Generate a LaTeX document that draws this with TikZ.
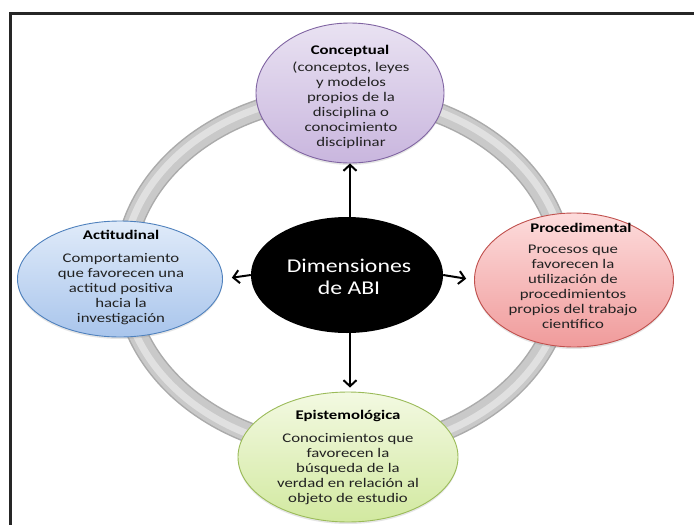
\documentclass[tikz,border=0pt]{standalone}
\usepackage{fontspec}
\newfontfamily\bodyfont[FakeStretch=1.27]{Carlito}
\newfontfamily\midfont[FakeStretch=1.22]{Carlito}
\usetikzlibrary{shapes.geometric,arrows.meta,shadows}
\definecolor{purpTop}{HTML}{E9E2F2}
\definecolor{purpBot}{HTML}{C9B6DE}
\definecolor{purpLine}{HTML}{8064A2}
\definecolor{blueTop}{HTML}{E0EBF9}
\definecolor{blueBot}{HTML}{A9C5EC}
\definecolor{blueLine}{HTML}{4F81BD}
\definecolor{redTop}{HTML}{FDDCDC}
\definecolor{redBot}{HTML}{F09B9B}
\definecolor{redLine}{HTML}{C0504D}
\definecolor{grnTop}{HTML}{F3F9E2}
\definecolor{grnBot}{HTML}{D2E9A0}
\definecolor{grnLine}{HTML}{9BBB59}
\definecolor{ringDark}{HTML}{ABABAB}
\definecolor{ringMid}{HTML}{C9C9C9}
\definecolor{ringLight}{HTML}{E0E0E0}
\definecolor{textGray}{HTML}{222222}
\tikzset{
  dimbox/.style={ellipse, inner sep=0pt, line width=0.9pt,
    drop shadow={shadow xshift=0pt, shadow yshift=-2pt, opacity=0.2}},
  titletxt/.style={anchor=base, inner sep=0pt, font=\bodyfont\bfseries\fontsize{13.2}{15}\selectfont, text=black},
  bodytxt/.style={anchor=north, inner sep=0pt, align=center, font=\bodyfont\fontsize{13.2}{15}\selectfont, text=textGray},
  arr/.style={-{Straight Barb[length=6pt,width=13pt]}, line width=2pt, black},
}
\begin{document}
\begin{tikzpicture}[x=1pt,y=-1pt]
\useasboundingbox (0,0) rectangle (694,525);
\fill[white] (0,0) rectangle (694,525);
% frame
\draw[line width=2.4pt, black!85] (10.5,526) -- (10.5,13.3) -- (695,13.3);
% ring
\draw[line width=21pt, ringDark] (344,273) ellipse [x radius=220, y radius=177];
\draw[line width=18pt, ringMid] (344,273) ellipse [x radius=220, y radius=177];
\draw[line width=7pt, ringLight] (344,273) ellipse [x radius=221.5, y radius=178.5];
% nodes
\node[dimbox, draw=purpLine, top color=purpTop, bottom color=purpBot,
  minimum width=188, minimum height=140] (c) at (350,93) {};
\node[dimbox, draw=blueLine, top color=blueTop, bottom color=blueBot,
  minimum width=205, minimum height=116] (a) at (120,279) {};
\node[dimbox, draw=redLine, top color=redTop, bottom color=redBot,
  minimum width=199, minimum height=134] (p) at (574,280) {};
\node[dimbox, draw=grnLine, top color=grnTop, bottom color=grnBot,
  minimum width=220, minimum height=130] (e) at (348,457) {};
\node[ellipse, inner sep=0pt, fill=black, minimum width=192, minimum height=116] (m) at (347,275) {};
% arrows
\draw[arr] (m.north -| c.south) -- (c.south);
\draw[arr, shorten >=4pt] (m.south -| c.south) -- (e.north -| c.south);
\draw[arr, shorten >=9pt] (m.west) -- (a.east);
\draw[arr, shorten >=8pt] (m.east) -- (p.west);
% texts
\node[titletxt] (ct) at (350,54) {Conceptual};
\node[bodytxt] (cb) at (351,61) {\rule{0pt}{10pt}(conceptos, leyes\\y modelos\\propios de la\\disciplina o\\conocimiento\\disciplinar};
\node[titletxt] (at) at (121,239) {Actitudinal};
\node[bodytxt] (ab) at (121,252) {\rule{0pt}{10pt}Comportamiento\\que favorecen una\\actitud positiva\\hacia la\\investigación};
\node[titletxt] (pt) at (581,232) {Procedimental};
\node[bodytxt] (pb) at (573,243) {\rule{0pt}{10pt}Procesos que\\favorecen la\\utilización de\\procedimientos\\propios del trabajo\\científico};
\node[titletxt] (et) at (348,419) {Epistemológica};
\node[bodytxt] (eb) at (348,432) {\rule{0pt}{10pt}Conocimientos que\\favorecen la\\búsqueda de la\\verdad en relación al\\objeto de estudio};
\node[anchor=north, inner sep=0pt, align=center, text=white,
  font=\midfont\fontsize{19.5}{22}\selectfont] (mt) at (349,257) {\rule{0pt}{15pt}Dimensiones\\de ABI};
\end{tikzpicture}
\end{document}
